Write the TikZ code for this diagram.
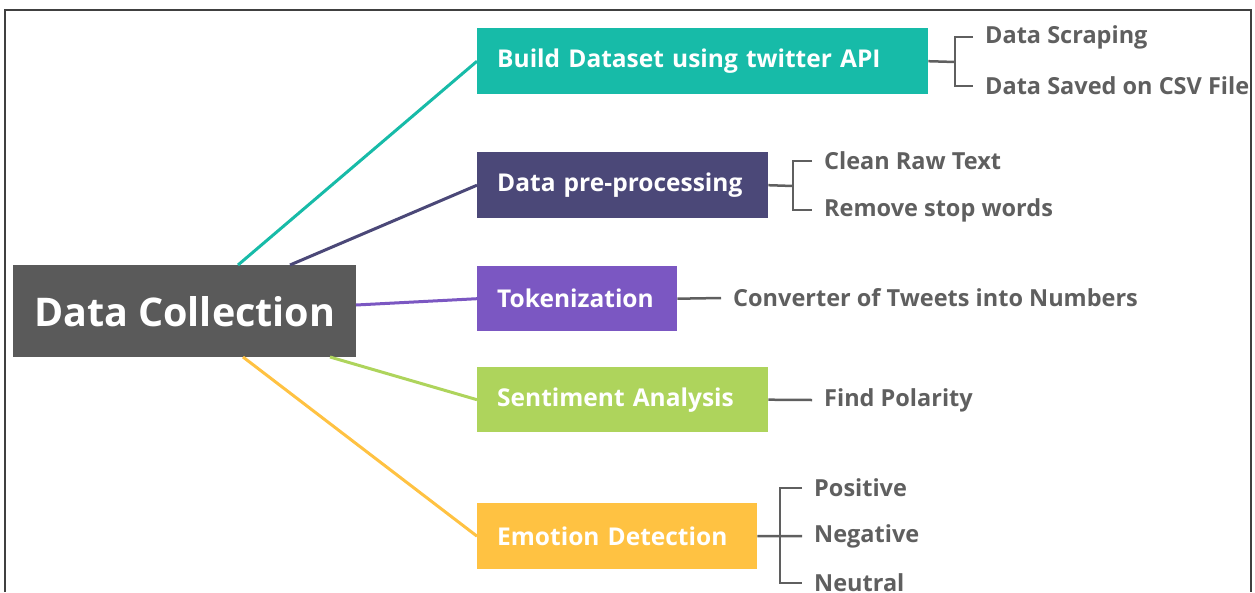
\documentclass[tikz,border=0pt]{standalone}
\usepackage{fontspec}
\setmainfont{Open Sans}
\begin{document}
\begin{tikzpicture}[x=1pt,y=-1pt,
  box/.style={anchor=north west,inner xsep=20pt,inner ysep=0pt,text=white,font=\bfseries\fontsize{24.5}{28}\selectfont,align=left},
  leaf/.style={anchor=west,inner sep=0pt,text=leafgray,font=\bfseries\fontsize{23.5}{27}\selectfont},
  br/.style={draw=leafgray,line width=2.5pt},
  conn/.style={line width=3pt}]
\definecolor{leafgray}{HTML}{5F5F5F}
\definecolor{cgray}{HTML}{5A5A5A}
\definecolor{cteal}{HTML}{17BBA8}
\definecolor{cnavy}{HTML}{4B4878}
\definecolor{cpurple}{HTML}{7B57C2}
\definecolor{cgreen}{HTML}{AED45C}
\definecolor{corange}{HTML}{FFC242}
\useasboundingbox (0,0) rectangle (1255,592);
\draw[line width=1.2pt,draw=black!75] (5,592) -- (5,10) -- (1251,10) -- (1251,592);
% main nodes
\node[anchor=north west,inner sep=0pt,fill=cgray,text=white,minimum width=343pt,minimum height=92pt,font=\bfseries\fontsize{39.5}{44}\selectfont] (dc) at (13,265) {Data Collection};
\node[box,fill=cteal,minimum width=451pt,minimum height=66pt,text width=411pt] (bd) at (477,28) {Build Dataset using twitter API};
\node[box,fill=cnavy,minimum width=291pt,minimum height=66pt,text width=251pt] (dp) at (477,152) {Data pre-processing};
\node[box,fill=cpurple,minimum width=200pt,minimum height=65pt,text width=160pt] (tk) at (477,266) {Tokenization};
\node[box,fill=cgreen,minimum width=291pt,minimum height=65pt,text width=251pt] (sa) at (477,367) {Sentiment Analysis};
\node[box,fill=corange,minimum width=280pt,minimum height=66pt,text width=240pt] (ed) at (477,503) {Emotion Detection};
% connectors from centre
\coordinate (c1) at (238,265);
\coordinate (c2) at (290,265);
\coordinate (c3) at (356,305);
\coordinate (c4) at (330,357);
\coordinate (c5) at (243,357);
\draw[conn,cteal] (c1) -- (bd.west);
\draw[conn,cnavy] (c2) -- (dp.west);
\draw[conn,cpurple] (c3) -- (tk.west);
\draw[conn,cgreen] (c4) -- (sa.west);
\draw[conn,corange] (c5) -- (ed.west);
% leaves
\node[leaf] (l1) at (985,37) {Data Scraping};
\node[leaf] (l2) at (985,86) {Data Saved on CSV File};
\node[leaf] (l3) at (824,161) {Clean Raw Text};
\node[leaf] (l4) at (824,210) {Remove stop words};
\node[leaf] (l5) at (733,298) {Converter of Tweets into Numbers};
\node[leaf] (l6) at (824,400) {Find Polarity};
\node[leaf] (l7) at (814,488) {Positive};
\node[leaf] (l8) at (814,536) {Negative};
\node[leaf] (l9) at (814,583) {Neutral};
% brackets
\coordinate (j1) at (955,62);
\draw[br] (bd.east) -- (j1);
\draw[br] ([xshift=-12pt]l1.west) -| (j1) |- ([xshift=-12pt]l2.west);
\coordinate (j2) at (793,186);
\draw[br] (dp.east) -- (j2);
\draw[br] ([xshift=-12pt]l3.west) -| (j2) |- ([xshift=-12pt]l4.west);
\draw[br] (tk.east) -- ([xshift=-12pt]l5.west);
\draw[br] (sa.east) -- ([xshift=-12pt]l6.west);
\coordinate (j3) at (780,536);
\draw[br] (ed.east) -- ([xshift=-12pt]l8.west);
\draw[br] ([xshift=-12pt]l7.west) -| (j3) |- ([xshift=-12pt]l9.west);
\end{tikzpicture}
\end{document}
